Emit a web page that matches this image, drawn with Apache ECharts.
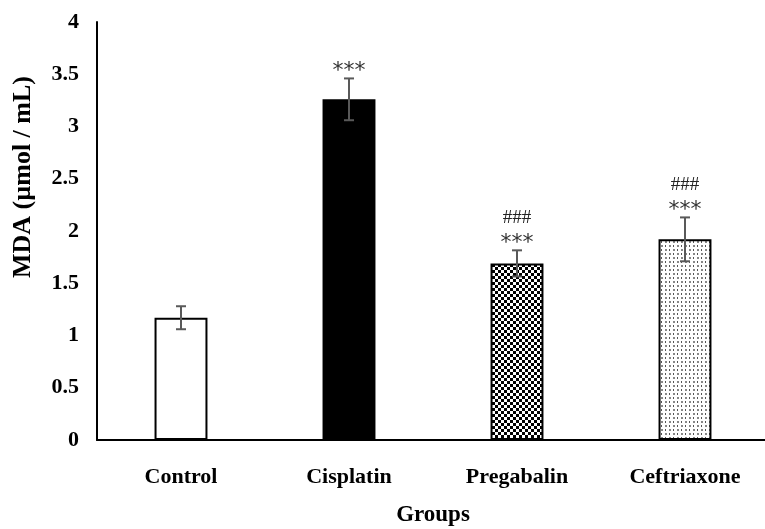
<!DOCTYPE html>
<html>
<head>
<meta charset="utf-8">
<script src="https://cdn.jsdelivr.net/npm/echarts@6/dist/echarts.min.js"></script>
<style>html,body{margin:0;padding:0;background:#fff;}#c{width:765px;height:529px;}</style>
</head>
<body>
<div id="c"></div>
<script>
const categories = ['Control', 'Cisplatin', 'Pregabalin', 'Ceftriaxone'];
const means = [1.17, 3.26, 1.69, 1.92];
const errors = [0.11, 0.20, 0.125, 0.21];
const starMarks = ['', '***', '***', '***'];
const hashMarks = ['', '', '###', '###'];

function checker() {
  const c = document.createElement('canvas');
  c.width = 6; c.height = 6;
  const g = c.getContext('2d');
  g.fillStyle = '#fff'; g.fillRect(0, 0, 6, 6);
  g.fillStyle = '#000';
  g.fillRect(0, 0, 3, 3); g.fillRect(3, 3, 3, 3);
  return c;
}
function dots() {
  const c = document.createElement('canvas');
  c.width = 8; c.height = 8;
  const g = c.getContext('2d');
  g.fillStyle = '#fff'; g.fillRect(0, 0, 8, 8);
  g.fillStyle = '#888';
  g.fillRect(1, 1, 2, 2); g.fillRect(5, 5, 2, 2);
  g.fillStyle = '#555';
  g.fillRect(5, 1, 1, 2); g.fillRect(1, 5, 1, 2);
  return c;
}
const fills = ['#ffffff', '#000000', {image: checker(), repeat: 'repeat'}, {image: dots(), repeat: 'repeat'}];

const serif = '"Liberation Serif", "Times New Roman", serif';
const chart = echarts.init(document.getElementById('c'));
chart.setOption({
  animation: false,
  backgroundColor: '#fff',
  grid: {left: 97, top: 22, width: 672, bottom: 89, containLabel: false, outerBoundsMode: 'none'},
  xAxis: {
    type: 'category', data: categories,
    axisLine: {lineStyle: {color: '#000', width: 2}},
    axisTick: {show: false},
    axisLabel: {color: '#000', fontFamily: serif, fontWeight: 'bold', fontSize: 22, margin: 26},
    name: 'Groups', nameLocation: 'middle', nameGap: 64,
    nameTextStyle: {color: '#000', fontFamily: serif, fontWeight: 'bold', fontSize: 23}
  },
  yAxis: {
    type: 'value', min: 0, max: 4, interval: 0.5,
    axisLine: {show: true, lineStyle: {color: '#000', width: 2}},
    axisTick: {show: false},
    splitLine: {show: false},
    axisLabel: {color: '#000', fontFamily: serif, fontWeight: 'bold', fontSize: 22, margin: 18}
  },
  graphic: [{
    type: 'text', x: 23, y: 177, rotation: Math.PI / 2,
    style: {text: 'MDA (µmol / mL)', fill: '#000', font: 'bold 26px ' + serif, align: 'center', verticalAlign: 'middle'}
  }],
  series: [{
    type: 'bar', barWidth: '31.5%',
    data: means.map((v, i) => ({value: v, itemStyle: {color: fills[i]}})),
    itemStyle: {borderColor: '#000', borderWidth: 2}
  }, {
    type: 'custom',
    data: means.map((v, i) => [i, v, errors[i]]),
    renderItem: function (params, api) {
      const x = api.coord([api.value(0), 0])[0];
      const top = api.coord([api.value(0), api.value(1) + api.value(2)])[1];
      const bot = api.coord([api.value(0), api.value(1) - api.value(2)])[1];
      const i = params.dataIndex;
      const w = 5;
      const st = {stroke: '#595959', lineWidth: 2};
      const children = [
        {type: 'line', shape: {x1: x, y1: top, x2: x, y2: bot}, style: st},
        {type: 'line', shape: {x1: x - w, y1: top, x2: x + w, y2: top}, style: st},
        {type: 'line', shape: {x1: x - w, y1: bot, x2: x + w, y2: bot}, style: st}
      ];
      if (starMarks[i]) children.push({type: 'text', x: x, y: top - 7, style: {text: starMarks[i], fill: '#333', font: '22px "DejaVu Sans", sans-serif', align: 'center', verticalAlign: 'middle'}});
      if (hashMarks[i]) children.push({type: 'text', x: x, y: top - 32, style: {text: hashMarks[i], fill: '#222', font: '19px ' + serif, align: 'center', verticalAlign: 'middle'}});
      return {type: 'group', children: children};
    },
    z: 5
  }]
});
</script>
</body>
</html>
